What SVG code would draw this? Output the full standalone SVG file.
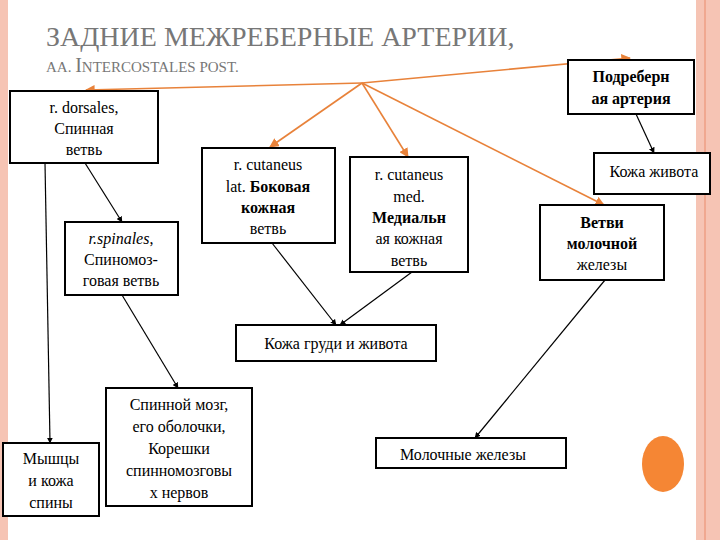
<svg xmlns="http://www.w3.org/2000/svg" width="720" height="540" viewBox="0 0 720 540">
<defs>
<style>
.b{fill:#fff;stroke:#000;stroke-width:2}
.t{font-family:"Liberation Serif","Times New Roman","DejaVu Serif",serif;font-size:16px;text-anchor:middle;fill:#000}
.h{font-family:"Liberation Serif","Times New Roman","DejaVu Serif",serif;fill:#777}
.bd{font-weight:bold}
.o{stroke:#e8823a;stroke-width:1.6;fill:none}
.k{stroke:#000;stroke-width:1.2;fill:none}
</style>
<marker id="ao" viewBox="0 0 10 10" refX="9" refY="5" markerWidth="6" markerHeight="6" orient="auto-start-reverse"><path d="M0 0L10 5L0 10z" fill="#e8823a"/></marker>
<marker id="ak" viewBox="0 0 10 10" refX="9" refY="5" markerWidth="5" markerHeight="5" orient="auto"><path d="M0 0L10 5L0 10z" fill="#000"/></marker>
</defs>
<rect width="720" height="540" fill="#fff"/>
<rect x="0" y="0" width="8" height="540" fill="#f6c4b4"/>
<rect x="696" y="0" width="24" height="540" fill="#f6c4b4"/>
<rect x="704" y="0" width="2" height="540" fill="#f0a890"/>
<text class="h" x="46" y="46" font-size="28">ЗАДНИЕ МЕЖРЕБЕРНЫЕ АРТЕРИИ,</text>
<text class="h" x="46" y="72" font-size="15">AA. <tspan font-size="20">I</tspan>NTERCOSTALES POST.</text>
<g id="connectors">
<line class="o" x1="362" y1="83" x2="86" y2="90" marker-end="url(#ao)"/>
<line class="o" x1="362" y1="83" x2="630" y2="58" marker-end="url(#ao)"/>
<line class="o" x1="362" y1="83" x2="270" y2="147" marker-end="url(#ao)"/>
<line class="o" x1="362" y1="83" x2="408" y2="157" marker-end="url(#ao)"/>
<line class="o" x1="362" y1="83" x2="604" y2="205" marker-end="url(#ao)"/>
<line class="k" x1="636" y1="114" x2="654" y2="153" marker-end="url(#ak)"/>
<line class="k" x1="85" y1="163" x2="122" y2="222" marker-end="url(#ak)"/>
<line class="k" x1="45" y1="163" x2="50" y2="443" marker-end="url(#ak)"/>
<line class="k" x1="122" y1="295" x2="178" y2="388" marker-end="url(#ak)"/>
<line class="k" x1="272" y1="243" x2="336" y2="325" marker-end="url(#ak)"/>
<line class="k" x1="412" y1="272" x2="340" y2="325" marker-end="url(#ak)"/>
<line class="k" x1="605" y1="280" x2="475" y2="438" marker-end="url(#ak)"/>
</g>
<g id="dorsales"><rect class="b" x="10" y="91" width="148" height="72"/><text class="t" x="84" y="113">r. dorsales,</text><text class="t" x="84" y="134">Спинная</text><text class="t" x="84" y="155">ветвь</text></g>
<g id="spinales"><rect class="b" x="65" y="222" width="113" height="73"/><text class="t" x="121" y="244"><tspan font-style="italic">r.spinales</tspan>,</text><text class="t" x="121" y="265">Спиномоз-</text><text class="t" x="121" y="286">говая ветвь</text></g>
<g id="lat"><rect class="b" x="202" y="148" width="133" height="95"/><text class="t" x="268" y="170">r. cutaneus</text><text class="t" x="268" y="192">lat. <tspan class="bd">Боковая</tspan></text><text class="t bd" x="268" y="213">кожная</text><text class="t" x="268" y="234">ветвь</text></g>
<g id="med"><rect class="b" x="350" y="157" width="118" height="115"/><text class="t" x="409" y="180">r. cutaneus</text><text class="t" x="409" y="202">med.</text><text class="t bd" x="409" y="223">Медиальн</text><text class="t" x="409" y="244">ая кожная</text><text class="t" x="409" y="266">ветвь</text></g>
<g id="podreb"><rect class="b" x="568" y="60" width="126" height="54"/><text class="t bd" x="631" y="82">Подреберн</text><text class="t bd" x="631" y="104">ая артерия</text></g>
<g id="kozha-zhivota"><rect class="b" x="594" y="153" width="116" height="41"/><text class="t" x="654" y="177">Кожа живота</text></g>
<g id="vetvi"><rect class="b" x="540" y="205" width="124" height="75"/><text class="t bd" x="602" y="228">Ветви</text><text class="t bd" x="602" y="249">молочной</text><text class="t" x="602" y="270">железы</text></g>
<g id="kozha-grudi"><rect class="b" x="236" y="325" width="200" height="36"/><text class="t" x="336" y="349">Кожа груди и живота</text></g>
<g id="mozg"><rect class="b" x="106" y="388" width="146" height="118"/><text class="t" x="179" y="410">Спинной мозг,</text><text class="t" x="179" y="432">его оболочки,</text><text class="t" x="179" y="454">Корешки</text><text class="t" x="179" y="476">спинномозговы</text><text class="t" x="179" y="498">х нервов</text></g>
<g id="myshcy"><rect class="b" x="3" y="443" width="96" height="73"/><text class="t" x="51" y="464">Мышцы</text><text class="t" x="51" y="486">и кожа</text><text class="t" x="51" y="508">спины</text></g>
<g id="molochnye"><rect class="b" x="376" y="438" width="190" height="30"/><text class="t" x="463" y="460">Молочные железы</text></g>
<ellipse cx="663" cy="464" rx="21" ry="28" fill="#f58634"/>
</svg>
